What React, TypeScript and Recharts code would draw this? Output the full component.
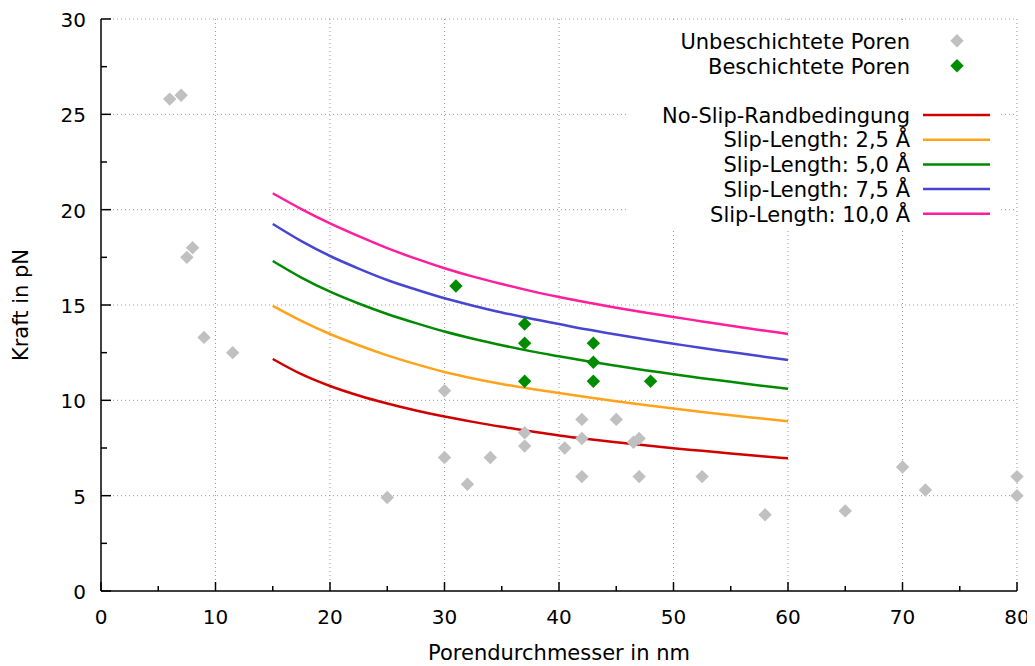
import React from 'react';
import {
  ComposedChart,
  Line,
  Scatter,
  XAxis,
  YAxis,
  CartesianGrid,
  Legend,
  Label,
} from 'recharts';

// Measured forces (pN) over pore diameter (nm)
const uncoatedDiameter = [6, 7, 7.5, 8, 9, 11.5, 25, 30, 30, 32, 34, 37, 37, 40.5, 42, 42, 42, 45, 46.5, 47, 47, 52.5, 58, 65, 70, 72, 80, 80];
const uncoatedForce = [25.8, 26, 17.5, 18, 13.3, 12.5, 4.9, 10.5, 7, 5.6, 7, 8.3, 7.6, 7.5, 9, 8, 6, 9, 7.8, 8, 6, 6, 4, 4.2, 6.5, 5.3, 6, 5];

const coatedDiameter = [31, 37, 37, 37, 43, 43, 43, 48];
const coatedForce = [16, 14, 13, 11, 13, 12, 11, 11];

// Model curves, 15 ... 60 nm in 2.5 nm steps
const modelDiameter = [15, 17.5, 20, 22.5, 25, 27.5, 30, 32.5, 35, 37.5, 40, 42.5, 45, 47.5, 50, 52.5, 55, 57.5, 60];
const noSlip = [12.17, 11.37, 10.75, 10.25, 9.83, 9.47, 9.15, 8.87, 8.61, 8.38, 8.16, 7.97, 7.8, 7.64, 7.49, 7.35, 7.21, 7.08, 6.96];
const slip25 = [14.96, 14.17, 13.48, 12.89, 12.36, 11.9, 11.49, 11.15, 10.86, 10.61, 10.38, 10.16, 9.95, 9.76, 9.57, 9.39, 9.22, 9.06, 8.9];
const slip50 = [17.31, 16.44, 15.7, 15.08, 14.53, 14.05, 13.61, 13.23, 12.89, 12.58, 12.31, 12.05, 11.81, 11.58, 11.37, 11.16, 10.97, 10.78, 10.61];
const slip75 = [19.25, 18.35, 17.57, 16.91, 16.31, 15.81, 15.35, 14.96, 14.61, 14.29, 14.0, 13.71, 13.45, 13.2, 12.97, 12.74, 12.53, 12.32, 12.12];
const slip100 = [20.86, 20.03, 19.28, 18.61, 17.98, 17.43, 16.93, 16.49, 16.1, 15.74, 15.42, 15.13, 14.86, 14.61, 14.37, 14.14, 13.91, 13.69, 13.48];

const xTicks = [0, 5, 10, 15, 20, 25, 30, 35, 40, 45, 50, 55, 60, 65, 70, 75, 80];
const yTicks = [0, 2.5, 5, 7.5, 10, 12.5, 15, 17.5, 20, 22.5, 25, 27.5, 30];

const FONT = 'DejaVu Sans, Verdana, sans-serif';

const toPoints = (xs: number[], ys: number[]) => xs.map((x, i) => ({ x, y: ys[i] }));

const models = [
  { name: 'No-Slip-Randbedingung', color: '#d00000', values: noSlip },
  { name: 'Slip-Length: 2,5 Å', color: '#ffa31a', values: slip25 },
  { name: 'Slip-Length: 5,0 Å', color: '#008a00', values: slip50 },
  { name: 'Slip-Length: 7,5 Å', color: '#4646d2', values: slip75 },
  { name: 'Slip-Length: 10,0 Å', color: '#ff1e9c', values: slip100 },
];

const Diamond = ({ cx, cy, fill }: any) => {
  const r = 6.7;
  return (
    <polygon
      points={`${cx},${cy - r} ${cx + r},${cy} ${cx},${cy + r} ${cx - r},${cy}`}
      fill={fill}
    />
  );
};

const XTick = ({ x, y, payload }: any) => {
  const major = payload.value % 10 === 0;
  return (
    <g>
      <line x1={x} x2={x} y1={y} y2={y - (major ? 9 : 5)} stroke="#000" strokeWidth={1.5} />
      {major && (
        <text x={x} y={y + 33} textAnchor="middle" fontFamily={FONT} fontSize={20} fill="#000">
          {payload.value}
        </text>
      )}
    </g>
  );
};

const YTick = ({ x, y, payload }: any) => {
  const major = payload.value % 5 === 0;
  return (
    <g>
      <line x1={x} x2={x + (major ? 10 : 6)} y1={y} y2={y} stroke="#000" strokeWidth={1.5} />
      {major && (
        <text x={x - 15} y={y + 8} textAnchor="end" fontFamily={FONT} fontSize={20} fill="#000">
          {payload.value}
        </text>
      )}
    </g>
  );
};

const LegendBox = () => {
  const textX = 282;
  return (
    <svg width={372} height={206} style={{ display: 'block', background: '#fff' }}>
      <g fontFamily={FONT} fontSize={21} fill="#000" textAnchor="end">
        <text x={textX} y={26.5}>Unbeschichtete Poren</text>
        <text x={textX} y={51.5}>Beschichtete Poren</text>
        {models.map((m, i) => (
          <text key={m.name} x={textX} y={100.7 + i * 24.7}>
            {m.name}
          </text>
        ))}
      </g>
      <Diamond cx={329} cy={18.7} fill="#c0c0c0" />
      <Diamond cx={329} cy={43.7} fill="#008c00" />
      {models.map((m, i) => (
        <line key={m.name} x1={295} x2={362} y1={93 + i * 24.7} y2={93 + i * 24.7} stroke={m.color} strokeWidth={2.5} />
      ))}
    </svg>
  );
};

export default function App() {
  return (
    <ComposedChart
      width={1027}
      height={658}
      margin={{ top: 11, right: 18, bottom: 25, left: 33 }}
    >
      <CartesianGrid
        stroke="#999"
        strokeDasharray="1 3"
        horizontalValues={[5, 10, 15, 20, 25, 30]}
        verticalValues={[10, 20, 30, 40, 50, 60, 70, 80]}
      />
      <XAxis
        dataKey="x"
        type="number"
        domain={[0, 80]}
        ticks={xTicks}
        interval={0}
        height={50}
        tickSize={0}
        tickMargin={0}
        tick={<XTick />}
        tickLine={false}
        axisLine={{ stroke: '#000', strokeWidth: 1.5 }}
      >
        <Label
          value="Porendurchmesser in nm"
          position="bottom"
          offset={4}
          style={{ fontFamily: FONT, fontSize: 21, fill: '#000' }}
        />
      </XAxis>
      <YAxis
        type="number"
        domain={[0, 30]}
        ticks={yTicks}
        interval={0}
        width={60}
        tickSize={0}
        tickMargin={0}
        tick={<YTick />}
        tickLine={false}
        axisLine={{ stroke: '#000', strokeWidth: 1.5 }}
      >
        <Label
          content={({ viewBox }: any) => {
            const cx = viewBox.x - 13;
            const cy = viewBox.y + viewBox.height / 2;
            return (
              <text
                x={cx}
                y={cy}
                transform={`rotate(-90 ${cx} ${cy})`}
                textAnchor="middle"
                fontFamily={FONT}
                fontSize={21}
                fill="#000"
              >
                Kraft in pN
              </text>
            );
          }}
        />
      </YAxis>
      <Scatter
        name="Unbeschichtete Poren"
        data={toPoints(uncoatedDiameter, uncoatedForce)}
        dataKey="y"
        fill="#c0c0c0"
        shape={<Diamond />}
        isAnimationActive={false}
      />
      {models.map((m) => (
        <Line
          key={m.name}
          name={m.name}
          data={toPoints(modelDiameter, m.values)}
          dataKey="y"
          type="monotone"
          stroke={m.color}
          strokeWidth={2.5}
          dot={false}
          activeDot={false}
          isAnimationActive={false}
        />
      ))}
      <Scatter
        name="Beschichtete Poren"
        data={toPoints(coatedDiameter, coatedForce)}
        dataKey="y"
        fill="#008c00"
        shape={<Diamond />}
        isAnimationActive={false}
      />
      <Legend
        layout="horizontal"
        verticalAlign="middle"
        align="center"
        wrapperStyle={{ left: 620, top: 14, width: 372, height: 206 }}
        content={() => <LegendBox />}
      />
    </ComposedChart>
  );
}
